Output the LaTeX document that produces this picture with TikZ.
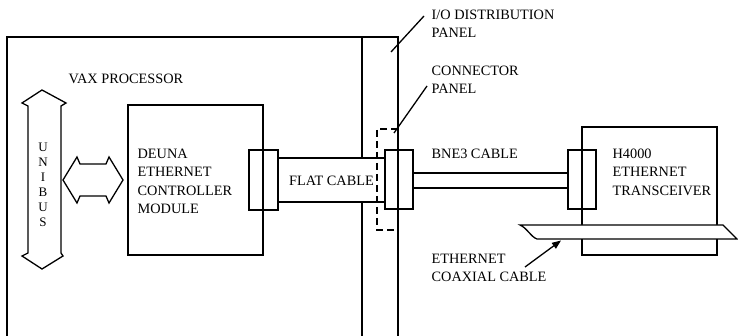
\documentclass[tikz,border=0pt]{standalone}
\usepackage{fontspec}
\setmainfont{Liberation Serif}
\usetikzlibrary{arrows.meta}
\begin{document}
\begin{tikzpicture}[x=1pt,y=-1pt,line width=1.3pt,
  lbl/.style={inner sep=0pt,anchor=north west,align=left,font=\fontsize{14.3}{18.5}\selectfont},
  conn/.style={draw,inner sep=0pt,minimum width=28pt,minimum height=59pt},
  leader/.style={line width=1.3pt},
  ptr/.style={line width=1.3pt,-{Triangle[length=9pt,width=7pt]}}]
\useasboundingbox (0,0) rectangle (738,336);
% VAX cabinet and I/O distribution panel
\draw (7,336) -- (7,37) -- (398,37) -- (398,336);
\draw (362,37) -- (362,336);
\node[lbl] (vax) at (68,73) {VAX PROCESSOR};
% UNIBUS double arrow
\draw[line join=miter] (42,90) -- (22,103) -- (28,106) -- (28,253) -- (22,256) -- (42,269)
  -- (63,256) -- (61,253) -- (61,106) -- (66,103) -- cycle;
\node[inner sep=0pt,align=center,font=\fontsize{13}{15}\selectfont,anchor=north] (unibus) at (43,142)
  {U\\N\\I\\B\\U\\S};
% horizontal double arrow
\draw[line join=miter] (63,180) -- (77,157) -- (80,164) -- (106,164) -- (109,157) -- (123,180)
  -- (109,203) -- (106,196) -- (80,196) -- (77,203) -- cycle;
% DEUNA module
\node[draw,inner sep=0pt,minimum width=135pt,minimum height=150pt] (deuna) at (195.5,180) {};
\node[lbl] (deunatxt) at (137,148) {DEUNA\\ETHERNET\\CONTROLLER\\MODULE};
% connectors
\node[conn] (dcon) at (263.5,180) {};
\node[conn] (pcon) at (399,179.5) {};
\node[conn] (tcon) at (582,179.5) {};
% flat cable between the two connectors
\draw[fill=white] (dcon.east |- 0,158) rectangle (pcon.west |- 0,202);
\node[inner sep=0pt,font=\fontsize{14.3}{16}\selectfont] (flat) at (331.5,181) {FLAT CABLE};
\draw (dcon.north west) rectangle (dcon.south east);
\draw (pcon.north west) rectangle (pcon.south east);
% connector panel (dashed)
\draw[dash pattern=on 7pt off 4pt] (398,129) -- (377,129) -- (377,230) -- (398,230);
% BNE3 cable
\draw (pcon.east |- 0,173) -- (tcon.west |- 0,173);
\draw (pcon.east |- 0,188) -- (tcon.west |- 0,188);
\node[lbl] (bne) at (431,148) {BNE3 CABLE};
% H4000 transceiver
\node[draw,inner sep=0pt,minimum width=135pt,minimum height=128pt] (h4000) at (649.5,191) {};
\node[lbl] (h4txt) at (612,148) {H4000\\ETHERNET\\TRANSCEIVER};
% coaxial cable
\draw[fill=white,line join=miter] (520,225) -- (723,225) -- (737,239) -- (537,239)
  .. controls (531,237) and (527,228) .. cycle;
\coordinate (coaxpt) at (561,240.5);
% labels with leaders
\node[lbl] (iotxt) at (431,9) {I/O DISTRIBUTION\\PANEL};
\node[lbl] (cptxt) at (431,65) {CONNECTOR\\PANEL};
\node[lbl] (coaxtxt) at (431,253) {ETHERNET\\COAXIAL CABLE};
\coordinate (iopt) at (391,52);
\coordinate (cppt) at (394,133);
\coordinate (iol) at (424,16);
\coordinate (cpl) at (427,86);
\coordinate (cxl) at (525,267);
\draw[leader] (iol) -- (iopt);
\draw[leader] (cpl) -- (cppt);
\draw[ptr] (cxl) -- (coaxpt);
\end{tikzpicture}
\end{document}
